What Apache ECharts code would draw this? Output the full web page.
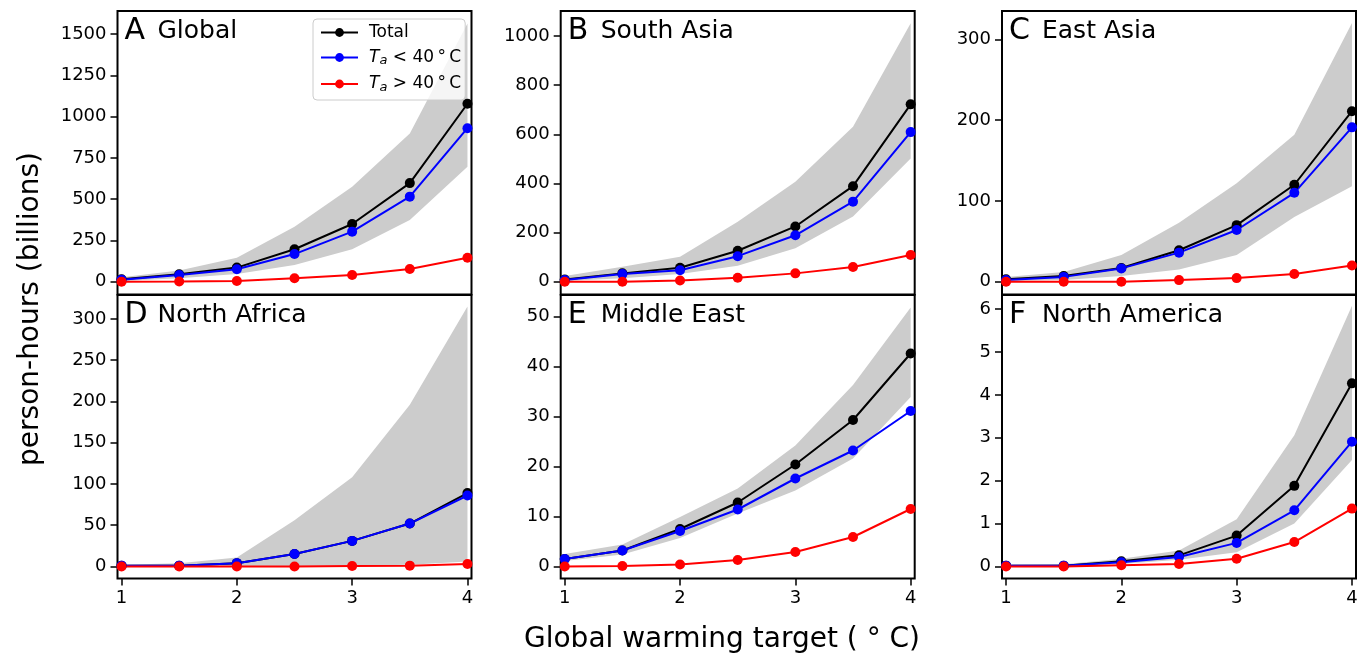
<!DOCTYPE html>
<html>
<head>
<meta charset="utf-8">
<script src="https://cdn.jsdelivr.net/npm/echarts@6/dist/echarts.min.js"></script>
<style>
  html, body { margin: 0; padding: 0; background: #fff; }
  #chart { width: 1366px; height: 656px; }
</style>
</head>
<body>
<div id="chart"></div>
<script>
// warming target on x (deg C)
const warming = [1, 1.5, 2, 2.5, 3, 3.5, 4];
const letters = ["A", "B", "C", "D", "E", "F"];
const regions = ["Global", "South Asia", "East Asia", "North Africa", "Middle East", "North America"];

// person-hours (billions), one row per panel
const total = [
  [14, 44, 85, 196, 349, 597, 1078],
  [9, 34, 57, 126, 225, 389, 722],
  [3, 7, 17, 39, 70, 120, 211],
  [1, 1, 4, 15, 31, 52, 89],
  [1.5, 3.2, 7.5, 12.8, 20.4, 29.3, 42.6],
  [0.02, 0.02, 0.12, 0.26, 0.72, 1.88, 4.27]
];
const belowForty = [
  [12, 40, 75, 167, 303, 515, 930],
  [7, 31, 47, 104, 189, 326, 609],
  [2, 6, 16.5, 36, 64, 110, 191],
  [1, 1, 4, 15, 31, 52, 86],
  [1.5, 3.2, 7.1, 11.4, 17.6, 23.2, 31.1],
  [0.02, 0.02, 0.1, 0.22, 0.55, 1.31, 2.91]
];
const aboveForty = [
  [0, 1, 4, 20, 40, 77, 145],
  [0, 0, 5, 16, 34, 60, 109],
  [0, 0, 0, 2, 4.5, 9.5, 20],
  [0, 0, 0, 0, 0.5, 1, 3],
  [0, 0.1, 0.4, 1.3, 2.9, 5.9, 11.5],
  [0, 0, 0.03, 0.06, 0.18, 0.57, 1.35]
];
// shaded range
const bandLow = [
  [4, 20, 46, 101, 196, 373, 696],
  [3, 14, 31, 65, 136, 265, 502],
  [1, 2, 7, 15, 33, 80, 118],
  [0, 0, 0, 0.5, 1, 2, 6],
  [1.1, 2.4, 5.7, 10.6, 15.2, 21.6, 33.9],
  [0, 0, 0.06, 0.16, 0.33, 1.0, 2.48]
];
const bandHigh = [
  [26, 67, 145, 333, 575, 898, 1564],
  [23, 61, 102, 244, 407, 631, 1052],
  [6, 12, 33, 73, 122, 182, 320],
  [2, 4, 11, 56, 108, 196, 315],
  [2.5, 4.4, 9.9, 15.6, 24.2, 36.3, 51.8],
  [0.04, 0.05, 0.18, 0.37, 1.1, 3.06, 6.08]
];
const xTicks = [1, 2, 3, 4];
const yTicks = [
  [0, 250, 500, 750, 1000, 1250, 1500],
  [0, 200, 400, 600, 800, 1000],
  [0, 100, 200, 300],
  [0, 50, 100, 150, 200, 250, 300],
  [0, 10, 20, 30, 40, 50],
  [0, 1, 2, 3, 4, 5, 6]
];
const yMin = [-78, -52, -15.8, -14.6, -2.4, -0.28];
const yMax = [1640, 1102, 335, 329, 54.3, 6.33];

const colLeft = [117.5, 560.7, 1002];
const rowTop = [11, 295];
const panelW = 354;
const panelH = 283.5;
const font = "DejaVu Sans";

const grids = [], xAxes = [], yAxes = [], series = [], graphics = [];

for (let i = 0; i < 6; i++) {
  const gl = colLeft[i % 3];
  const gt = rowTop[Math.floor(i / 3)];
  const bottomRow = i >= 3;

  grids.push({
    left: gl, top: gt, width: panelW, height: panelH,
    show: true, borderColor: "#000", borderWidth: 2, backgroundColor: "transparent"
  });

  xAxes.push({
    type: "value", gridIndex: i, min: 0.965, max: 4.035,
    axisLine: { show: false, onZero: false },
    splitLine: { show: false },
    axisTick: { show: bottomRow, inside: false, length: 7, customValues: xTicks, lineStyle: { color: "#000", width: 1.5 } },
    axisLabel: { show: bottomRow, customValues: xTicks, formatter: (v) => String(v), margin: 11, color: "#000", fontSize: 18, fontFamily: font }
  });

  yAxes.push({
    type: "value", gridIndex: i, min: yMin[i], max: yMax[i],
    axisLine: { show: false, onZero: false },
    splitLine: { show: false },
    axisTick: { show: true, inside: false, length: 7, customValues: yTicks[i], lineStyle: { color: "#000", width: 1.5 } },
    axisLabel: { customValues: yTicks[i], formatter: (v) => String(v), margin: 11, color: "#000", fontSize: 18, fontFamily: font }
  });

  const pairs = (arr) => warming.map((x, k) => [x, arr[k]]);

  // gray range drawn as one polygon through the axes
  series.push({
    type: "custom", xAxisIndex: i, yAxisIndex: i, silent: true,
    data: warming.map((x, k) => [x, bandLow[i][k], bandHigh[i][k]]),
    encode: { x: 0, y: [1, 2] },
    renderItem: (params, api) => {
      if (params.dataIndex !== 0) return;
      const upper = warming.map((x, k) => api.coord([x, bandHigh[i][k]]));
      const lower = warming.map((x, k) => api.coord([x, bandLow[i][k]])).reverse();
      return {
        type: "polygon",
        shape: { points: upper.concat(lower) },
        style: { fill: "#cccccc" }
      };
    }
  });

  const lines = [
    ["Total", total[i], "#000000"],
    ["below", belowForty[i], "#0000ff"],
    ["above", aboveForty[i], "#ff0000"]
  ];
  lines.forEach(([name, vals, color]) => {
    series.push({
      name: name, type: "line", xAxisIndex: i, yAxisIndex: i,
      data: pairs(vals), symbol: "circle", symbolSize: 10,
      itemStyle: { color: color },
      lineStyle: { color: color, width: 2 }
    });
  });

  // panel titles
  graphics.push({
    type: "text", x: gl + 7, y: gt + 20,
    style: { text: letters[i], font: "30px '" + font + "'", fill: "#000", verticalAlign: "middle" }
  });
  graphics.push({
    type: "text", x: gl + 40, y: gt + 20,
    style: { text: regions[i], font: "25px '" + font + "'", fill: "#000", verticalAlign: "middle" }
  });
}

// axis titles
graphics.push({
  type: "text", x: 31, y: 309, rotation: Math.PI / 2,
  style: { text: "person-hours (billions)", font: "28px '" + font + "'", fill: "#000", align: "center", verticalAlign: "middle" }
});
graphics.push({
  type: "text", x: 722, y: 640,
  style: { text: "Global warming target ( ° C)", font: "28px '" + font + "'", fill: "#000", align: "center", verticalAlign: "middle" }
});

const legendLabels = {
  Total: "{nf|Total}",
  below: "{tf|T}{s|a}{n| < 40\u2009°\u2009C}",
  above: "{tf|T}{s|a}{n| > 40\u2009°\u2009C}"
};

const chart = echarts.init(document.getElementById("chart"));
chart.setOption({
  animation: false,
  backgroundColor: "#fff",
  grid: grids,
  xAxis: xAxes,
  yAxis: yAxes,
  series: series,
  graphic: graphics,
  legend: {
    data: ["Total", "below", "above"],
    left: 313, top: 19, orient: "vertical",
    itemWidth: 37, itemHeight: 11, itemGap: 8,
    padding: [5, 4, 6, 7],
    backgroundColor: "rgba(255,255,255,0.8)",
    borderColor: "#cccccc", borderWidth: 1, borderRadius: 4,
    z: 10,
    formatter: (name) => legendLabels[name],
    textStyle: {
      color: "#000", fontFamily: font, fontSize: 17,
      rich: {
        nf: { fontSize: 17, lineHeight: 20, padding: [0, 0, 0, 6], fontFamily: font, color: "#000" },
        n: { fontSize: 17, lineHeight: 20, fontFamily: font, color: "#000" },
        tf: { fontSize: 17, lineHeight: 20, fontStyle: "italic", padding: [0, 0, 0, 6], fontFamily: font, color: "#000" },
        s: { fontSize: 13, lineHeight: 13, fontStyle: "italic", verticalAlign: "bottom", fontFamily: font, color: "#000" }
      }
    }
  }
});
</script>
</body>
</html>
